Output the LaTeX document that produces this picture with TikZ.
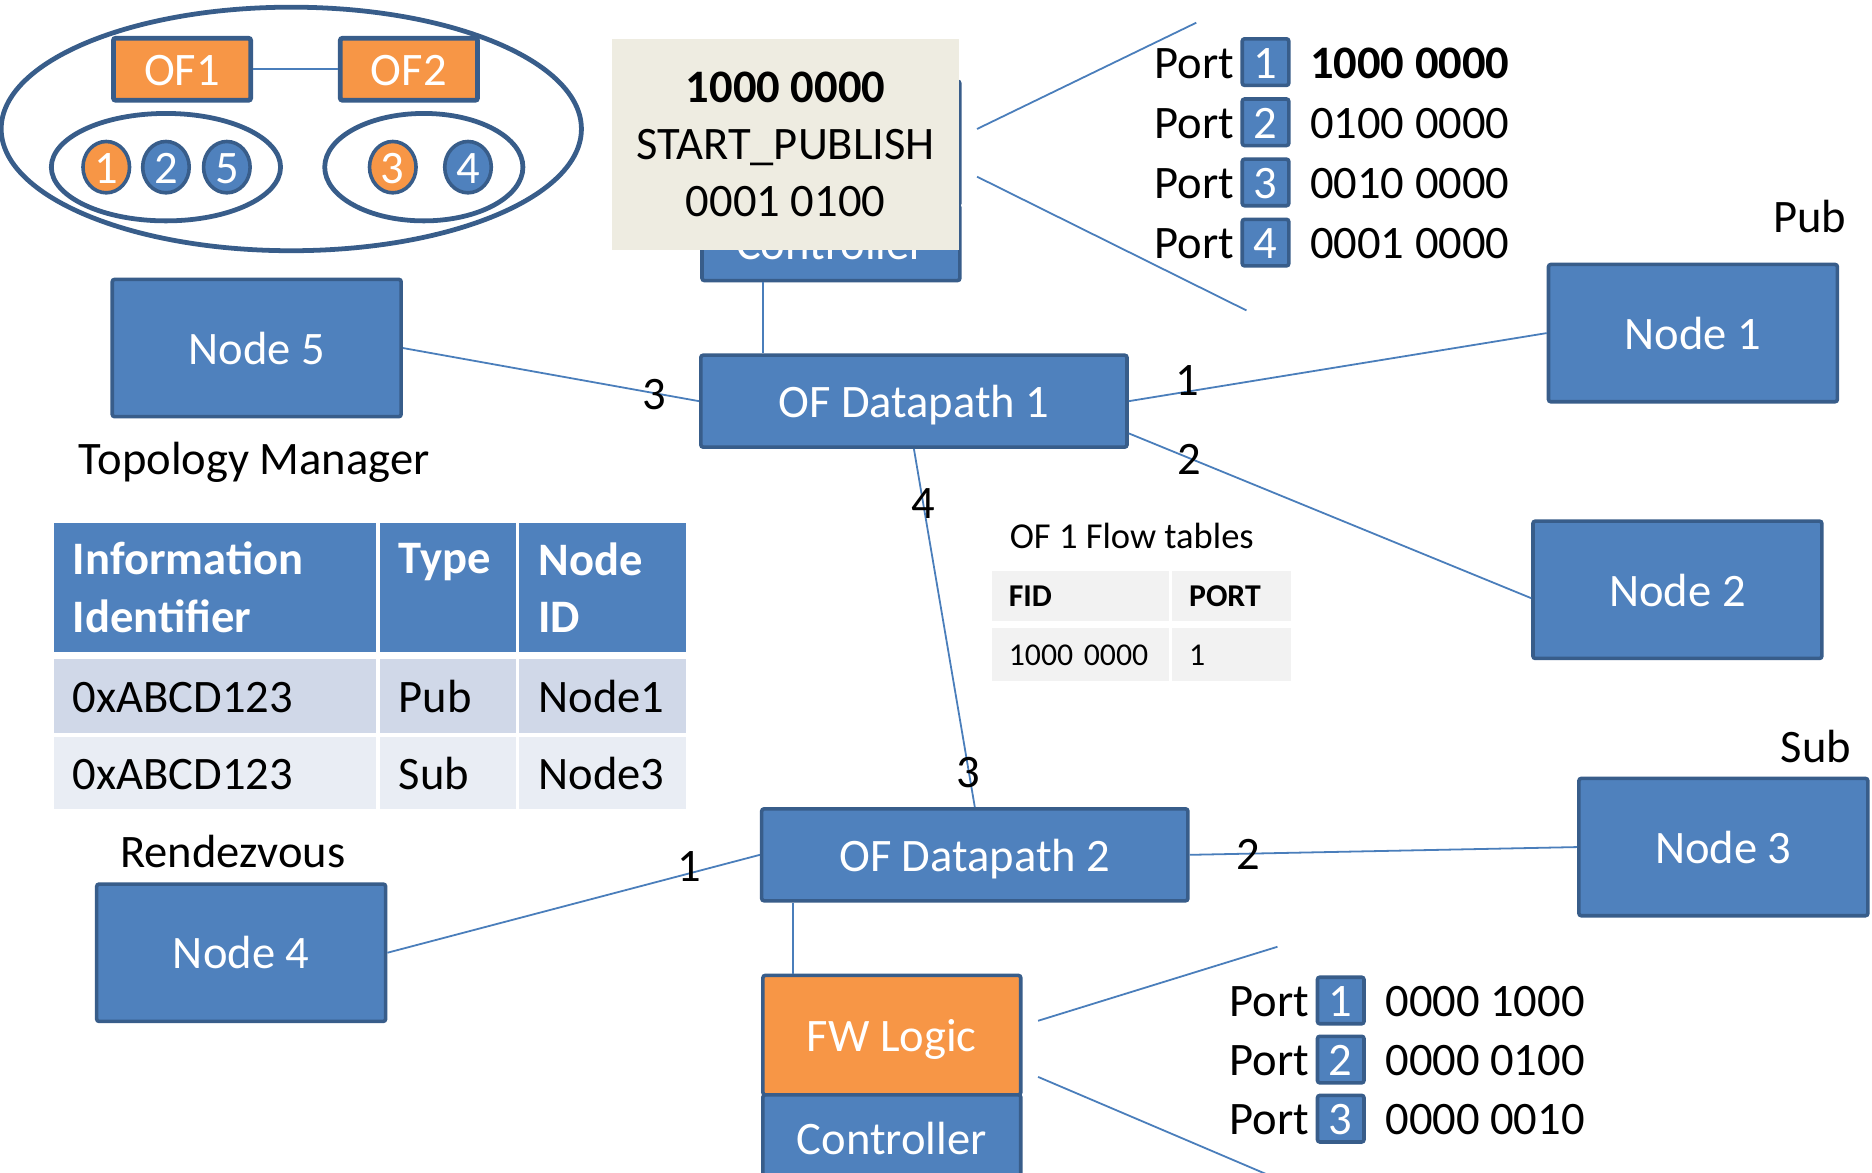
\documentclass[tikz,border=0pt]{standalone}
\usepackage{fontspec}
\setmainfont{Carlito}
\usepackage{xcolor}
\usepackage{tikz}
\usetikzlibrary{
  positioning,
  shapes.geometric,
  calc
}
\definecolor{NodeBlue}{HTML}{4F81BD}
\definecolor{EdgeBlue}{HTML}{385D8A}
\definecolor{LinkBlue}{HTML}{4A7EBB}
\definecolor{FwOrange}{HTML}{F79646}
\definecolor{MsgBeige}{HTML}{EEECE1}
\definecolor{RowDark}{HTML}{D0D8E8}
\definecolor{RowLight}{HTML}{E9EDF4}
\definecolor{FlowGray}{HTML}{F2F2F2}
\newcommand{\bigtext}{\fontsize{19.5pt}{24pt}\selectfont}
\newcommand{\midtext}{\fontsize{15.3pt}{18pt}\selectfont}
\newcommand{\smalltext}{\fontsize{13.3pt}{16pt}\selectfont}
\tikzset{
  caps/.style={
    text height=13.6pt,
    text depth=0pt
  },
  netbox/.style={
    draw=EdgeBlue,
    line width=1.5pt,
    fill=NodeBlue,
    rounded corners=1pt,
    text=white,
    font=\bigtext,
    caps,
    inner sep=0pt
  },
  hostbox/.style={
    netbox,
    minimum width=121pt,
    minimum height=57.5pt
  },
  pathbox/.style={
    netbox,
    minimum width=178.5pt,
    minimum height=38.5pt
  },
  stackbox/.style={
    netbox,
    minimum width=108pt
  },
  ofbox/.style={
    netbox,
    fill=FwOrange,
    line width=2pt,
    minimum width=57.5pt,
    minimum height=26pt
  },
  portbox/.style={
    netbox,
    minimum width=19.5pt,
    minimum height=19.5pt
  },
  group/.style={
    ellipse,
    draw=EdgeBlue,
    line width=2pt,
    inner sep=0pt
  },
  member/.style={
    ellipse,
    draw=EdgeBlue,
    line width=1.5pt,
    minimum width=19.5pt,
    minimum height=21.5pt,
    inner sep=0pt,
    text=white,
    font=\bigtext,
    caps
  },
  msgbox/.style={
    fill=MsgBeige,
    minimum width=145pt,
    minimum height=88pt,
    align=center,
    font=\bigtext,
    inner sep=0pt
  },
  note/.style={
    font=\bigtext,
    caps,
    inner sep=0pt
  },
  portnum/.style={
    note
  },
  hdrcell/.style={
    fill=NodeBlue,
    text=white,
    font=\bigtext\bfseries,
    align=left,
    inner xsep=8pt,
    inner ysep=0pt,
    minimum height=54pt
  },
  rowcell/.style={
    font=\bigtext,
    caps,
    align=left,
    inner xsep=8pt,
    inner ysep=0pt
  },
  flowcell/.style={
    fill=FlowGray,
    font=\smalltext,
    text height=9pt,
    text depth=0pt,
    align=left,
    inner xsep=7pt,
    inner ysep=0pt
  },
  link/.style={
    draw=LinkBlue,
    line width=0.75pt
  }
}

\begin{document}
\begin{tikzpicture}[
  x=0.5pt,
  y=-0.5pt
]

  \fill[white] (0,0) rectangle (1568,982);
  \useasboundingbox (0,0) rectangle (1568,982);
  \clip (0,0) rectangle (1568,982);

  % rendezvous groups
  \node[group, minimum width=243pt, minimum height=102pt] (groupAll) at (244,108) {};
  \node[group, minimum width=96pt, minimum height=45pt] (groupPub) at (139,140) {};
  \node[group, minimum width=83pt, minimum height=45pt] (groupSub) at (355,140) {};
  \node[ofbox] (ofOne) at (152.5,58) {OF1};
  \node[ofbox] (ofTwo) at (342.5,58) {OF2};
  \draw[link] (ofOne) -- (ofTwo);
  \foreach \n/\x/\c in {1/89/FwOrange,2/139/NodeBlue,5/190/NodeBlue,3/329/FwOrange,4/392/NodeBlue}
    \node[member, fill=\c] (member\n) at (\x,140) {\n};

  % controller of datapath 1
  \node[stackbox, minimum height=52pt] (logicTop) at (696,120) {};
  \node[stackbox, minimum height=31.5pt] (ctrlTop) at (696,203.5) {Controller};
  \node[msgbox] (msg) at (658,121) {
    \textbf{1000 0000}\\
    START\_PUBLISH\\
    0001 0100
  };

  % network
  \node[hostbox] (hostFive) at (215,291.5) {Node 5};
  \node[hostbox] (hostOne) at (1418,279) {Node 1};
  \node[hostbox] (hostTwo) at (1405,494) {Node 2};
  \node[hostbox] (hostThree) at (1443.5,709.5) {Node 3};
  \node[hostbox] (hostFour) at (202,798) {Node 4};
  \node[pathbox] (dpOne) at (765.5,336) {OF Datapath 1};
  \node[pathbox] (dpTwo) at (816.5,716) {OF Datapath 2};
  \node[stackbox, fill=FwOrange, minimum height=50pt] (fwLogic) at (747,867) {FW Logic};
  \node[stackbox, minimum height=36.5pt] (ctrlBottom) at (747,953.5) {Controller};

  \node[note] (topoLbl) at (213,384) {Topology Manager};
  \node[note] (pubLbl) at (1516,181) {Pub};
  \node[note] (subLbl) at (1521,625) {Sub};
  \node[note] (rdvLbl) at (195,713) {Rendezvous};

  \draw[link] (hostFive.east) --
  node[portnum, pos=0.85] (numFive) {3}
  (dpOne.west);
  \draw[link] (dpOne.east) --
  node[portnum, pos=0.14, above=-2pt] (numOneA) {1}
  (hostOne.west);
  \draw[link] ([yshift=-13.5pt]dpOne.east) --
  node[portnum, pos=0.15] (numOneB) {2}
  ([yshift=-3.5pt]hostTwo.west);
  \draw[link] (dpOne.south) --
  node[portnum, pos=0.15] (numOneC) {4}
  node[portnum, pos=0.9] (numTwoA) {3}
  (dpTwo.north);
  \draw[link] (dpTwo.east) --
  node[portnum, pos=0.15] (numTwoB) {2}
  (hostThree.west);
  \draw[link] (hostFour.east) --
  node[portnum, pos=0.81, yshift=3.5pt] (numTwoC) {1}
  (dpTwo.west);
  \draw[link] ([xshift=-28.5pt]ctrlTop.south) -- ([xshift=-28.5pt]ctrlTop.south |- dpOne.north);
  \draw[link] ([xshift=-41.5pt]fwLogic.north) -- ([xshift=-41.5pt]fwLogic.north |- dpTwo.south);

  % port masks of datapath 1
  \coordinate (fanTopUp) at (1002,19);
  \coordinate (fanTopDown) at (1044,260);
  \draw[link] ([shift={(7.5pt,6.5pt)}]msg.east) -- (fanTopUp);
  \draw[link] ([shift={(7.5pt,-13.5pt)}]msg.east) -- (fanTopDown);
  \foreach \n/\val [count=\i from 0] in {1/{\textbf{1000 0000}},2/{0100 0000},3/{0010 0000},4/{0001 0000}} {
    \node[portbox] (portTop\n) at (1060,{52+50.4*\i}) {\n};
    \node[note, left=2.5pt of portTop\n] (portTopLbl\n) {Port};
    \node[note, right=8pt of portTop\n] (portTopVal\n) {\val};
  }

  % port masks of datapath 2
  \coordinate (fanLowUp) at (1070,793);
  \coordinate (fanLowDown) at (1062,984);
  \draw[link] ([shift={(6.5pt,6pt)}]fwLogic.east) -- (fanLowUp);
  \draw[link] ([shift={(6.5pt,-17.5pt)}]fwLogic.east) -- (fanLowDown);
  \foreach \n/\val [count=\i from 0] in {1/{0000 1000},2/{0000 0100},3/{0000 0010}} {
    \node[portbox] (portLow\n) at (1123,{838+49.5*\i}) {\n};
    \node[note, left=2.5pt of portLow\n] (portLowLbl\n) {Port};
    \node[note, right=8pt of portLow\n] (portLowVal\n) {\val};
  }

  % flow table of datapath 1
  \node[note, font=\midtext, text height=10.5pt] (flowLbl) at (948,449) {OF 1 Flow tables};
  \node[flowcell, minimum width=74pt, minimum height=21pt, text width=60pt] (flowFid) at (905,499) {\textbf{FID}};
  \node[flowcell, minimum width=49.5pt, minimum height=21pt, text width=35.5pt] (flowPort) at (1031.5,499) {\textbf{PORT}};
  \node[flowcell, minimum width=74pt, minimum height=22pt, text width=60pt] (flowFidVal) at (905,548) {1000 0000};
  \node[flowcell, minimum width=49.5pt, minimum height=22pt, text width=35.5pt] (flowPortVal) at (1031.5,548) {1};

  % rendezvous table
  \node[hdrcell, minimum width=135pt, text width=119pt] (hdrInfo) at (180,492) {Information\\Identifier};
  \node[hdrcell, minimum width=57pt, text width=41pt] (hdrType) at (375,492) {Type\\\mbox{}};
  \node[hdrcell, minimum width=70pt, text width=54pt] (hdrNode) at (505,492) {Node\\ID};
  \node[rowcell, fill=RowDark, minimum width=135pt, minimum height=31pt, text width=119pt] (infoPub) at (180,583) {0xABCD123};
  \node[rowcell, fill=RowDark, minimum width=57pt, minimum height=31pt, text width=41pt] (typePub) at (375,583) {Pub};
  \node[rowcell, fill=RowDark, minimum width=70pt, minimum height=31pt, text width=54pt] (nodePub) at (505,583) {Node1};
  \node[rowcell, fill=RowLight, minimum width=135pt, minimum height=30.5pt, text width=119pt] (infoSub) at (180,647.5) {0xABCD123};
  \node[rowcell, fill=RowLight, minimum width=57pt, minimum height=30.5pt, text width=41pt] (typeSub) at (375,647.5) {Sub};
  \node[rowcell, fill=RowLight, minimum width=70pt, minimum height=30.5pt, text width=54pt] (nodeSub) at (505,647.5) {Node3};

\end{tikzpicture}
\end{document}
